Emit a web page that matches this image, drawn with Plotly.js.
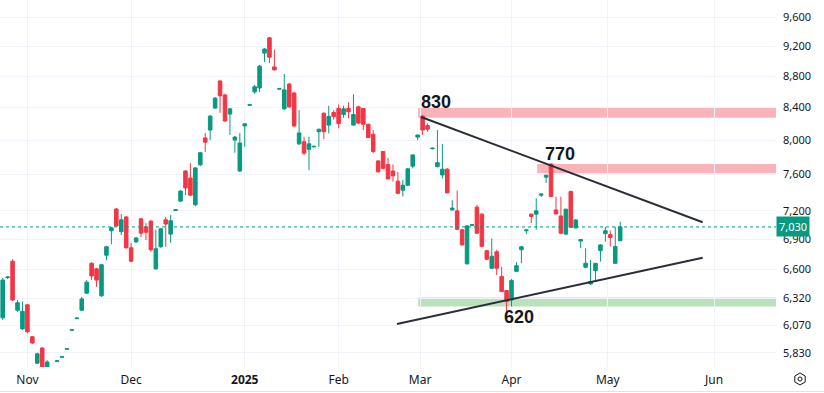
<!DOCTYPE html>
<html>
<head>
<meta charset="utf-8">
<script src="https://cdn.plot.ly/plotly-3.0.1.min.js"></script>
<style>
  html, body { margin: 0; padding: 0; background: #ffffff; }
  #chart { width: 824px; height: 393px; }
</style>
</head>
<body>
<div id="chart"></div>
<script>
// ---- Data (daily candles) ----
const openP = [6140,6520,6680,6210,6040,6260,5970,5740,5870,5700,5690,5755,5790,5860,6028,6133,6210,6370,6660,6605,
  6345,6740,6990,7220,6980,7135,6815,6875,7115,7030,7090,6605,6825,7105,6955,7205,7305,7640,7560,7265,
  7710,8025,8120,8390,8735,8555,8315,8000,7640,8170,8425,8595,8645,9105,9315,8920,8630,8380,8695,8580,
  7955,7980,7890,7920,8100,8325,8180,8335,8385,8310,8385,8180,8405,8385,8190,8070,7755,7865,7715,7640,
  7525,7425,7480,7695,8035,8290,8175,7898,7690,7595,7660,7210,7200,7000,6655,7048,7240,7165,6785,6610,
  6775,6530,6395,6305,6580,6795,6990,7165,7165,7370,7570,7720,7210,7145,6955,7410,7020,6884,6620,6458,
  6587,6786,6960,6950,6659,6887];
const highP = [6515,6535,6700,6305,6290,6270,5975,5830,5880,5765,5700,5767,5800,5870,6040,6145,6335,6495,6670,6615,
  6655,6835,7030,7230,7165,7145,6865,6925,7125,7070,7105,7000,7020,7135,7155,7220,7425,7650,7730,7685,
  7860,8085,8305,8530,8750,8570,8390,8050,8085,8205,8440,8685,8945,9175,9325,9150,8645,8825,8710,8595,
  8365,8040,8040,7935,8135,8340,8420,8365,8435,8420,8460,8565,8420,8390,8195,8120,7765,7870,7790,7715,
  7630,7540,7675,7830,8065,8305,8200,7910,8120,7955,7675,7315,7420,7010,7050,7060,7265,7175,6795,6910,
  6795,6625,6400,6505,6670,6835,7003,7170,7335,7385,7595,7730,7355,7355,7222,7420,7114,6903,6810,6692,
  6662,6850,7030,6991,7032,7085];
const lowP = [6120,6505,6295,6195,6030,6000,5905,5735,5680,5690,5670,5750,5785,5855,6020,6128,6205,6360,6495,6430,
  6335,6690,6850,7030,6945,6805,6670,6865,6925,6895,6775,6595,6815,6825,6865,7200,7295,7370,7360,7250,
  7695,7860,8000,8380,8330,8220,8060,7850,7630,7920,8420,8570,8595,8985,8970,8875,8625,8365,8390,8155,
  7940,7825,7650,7910,7920,8010,8080,8245,8140,8270,8265,8175,8190,8120,8025,7845,7625,7660,7545,7520,
  7380,7355,7470,7670,8000,8060,8100,7890,7680,7555,7390,7205,6995,6835,6645,7040,6955,6820,6690,6605,
  6545,6380,6150,6245,6575,6660,6955,7070,7000,7350,7505,7350,7162,6955,6950,7018,7015,6810,6610,6448,
  6496,6676,6877,6827,6657,6884];
const closeP = [6495,6525,6305,6280,6200,6015,5915,5820,5700,5750,5680,5760,5795,5865,6032,6138,6315,6475,6535,6495,
  6645,6825,7020,7040,7105,6815,6680,6915,6965,6975,6795,6805,7010,7060,7095,7212,7415,7450,7370,7675,
  7850,7975,8290,8515,8545,8230,8380,8035,7965,8195,8432,8660,8930,9160,9050,8880,8635,8620,8405,8170,
  8085,7845,7955,7925,8130,8100,8285,8285,8200,8380,8345,8310,8205,8190,8030,7865,7630,7670,7550,7585,
  7390,7480,7665,7825,8060,8120,8130,7904,7735,7660,7395,7230,7005,6845,7040,7052,6965,6830,6700,6730,
  6610,6385,6290,6490,6635,6825,6998,7140,7200,7383,7593,7355,7167,6965,7218,7026,7103,6900,6660,6480,
  6659,6844,6990,6920,6827,7030];

// time axis (bar index of each month's first session)
const monthLabels = ['Nov','Dec','<b>2025</b>','Feb','Mar','Apr','May','Jun'];
const monthStartBar = [5, 26, 49, 68, 84.5, 103, 122.5, 144];

// price axis ticks
const priceTicks = [5830,6070,6320,6600,6900,7200,7600,8000,8400,8800,9200,9600];
const priceTickText = ['5,830','6,070','6,320','6,600','6,900','7,200','7,600','8,000','8,400','8,800','9,200','9,600'];

// drawings
const upperTrendX = [84.7, 141.7];
const upperTrendY = [8279, 7079];
const lowerTrendX = [79.8, 141.7];
const lowerTrendY = [6084, 6715];
const resist1 = {x0: 84.1, y0: 8271, y1: 8391};
const resist2 = {x0: 108.2, y0: 7615, y1: 7720};
const support1 = {x0: 84.1, y0: 6245, y1: 6330};
const levelLabels = ['830', '770', '620'];
const levelLabelX = [87.7, 112.8, 104.5];
const levelLabelY = [8466, 7830, 6148];
const lastPrice = 7030;
const lastPriceText = '7,030';

const xIdx = closeP.map((_, i) => i);
const X_END = 156.54;

const UP = '#089981', DOWN = '#f23645';
const FONT = 'Noto Sans, Open Sans, sans-serif';

const traces = [
  {
    type: 'candlestick',
    x: xIdx, open: openP, high: highP, low: lowP, close: closeP,
    increasing: {line: {color: UP, width: 1}, fillcolor: UP},
    decreasing: {line: {color: DOWN, width: 1}, fillcolor: DOWN},
    whiskerwidth: 0,
    hoverinfo: 'skip'
  },
  {
    type: 'scatter', mode: 'lines', x: upperTrendX, y: upperTrendY,
    line: {color: '#2a2e39', width: 2}, hoverinfo: 'skip'
  },
  {
    type: 'scatter', mode: 'lines', x: lowerTrendX, y: lowerTrendY,
    line: {color: '#2a2e39', width: 2}, hoverinfo: 'skip'
  }
];

const shapes = [
  {type: 'rect', xref: 'x', yref: 'y', x0: resist1.x0, x1: X_END, y0: resist1.y0, y1: resist1.y1,
   fillcolor: 'rgba(242,54,69,0.38)', line: {width: 0}, layer: 'below'},
  {type: 'rect', xref: 'x', yref: 'y', x0: resist2.x0, x1: X_END, y0: resist2.y0, y1: resist2.y1,
   fillcolor: 'rgba(242,54,69,0.38)', line: {width: 0}, layer: 'below'},
  {type: 'rect', xref: 'x', yref: 'y', x0: support1.x0, x1: X_END, y0: support1.y0, y1: support1.y1,
   fillcolor: 'rgba(76,175,80,0.38)', line: {width: 0}, layer: 'below'},
  {type: 'line', xref: 'paper', yref: 'y', x0: 0, x1: 1, y0: lastPrice, y1: lastPrice,
   line: {color: UP, width: 1, dash: 'dot'}},
  {type: 'line', xref: 'paper', yref: 'paper', x0: 0, x1: 824/776, y0: -24.5/367, y1: -24.5/367,
   line: {color: '#e0e3eb', width: 1}},
  {type: 'path', xref: 'paper', yref: 'paper', xsizemode: 'pixel', ysizemode: 'pixel',
   xanchor: 800/776, yanchor: -12/367,
   path: 'M 0 6 L 5.2 3 L 5.2 -3 L 0 -6 L -5.2 -3 L -5.2 3 Z',
   line: {color: '#131722', width: 1}},
  {type: 'circle', xref: 'paper', yref: 'paper', xsizemode: 'pixel', ysizemode: 'pixel',
   xanchor: 800/776, yanchor: -12/367, x0: -2, x1: 2, y0: -2, y1: 2,
   line: {color: '#131722', width: 1}}
];

const annotations = levelLabels.map((t, i) => ({
  xref: 'x', yref: 'y', x: levelLabelX[i], y: Math.log10(levelLabelY[i]),
  text: '<b>' + t + '</b>', showarrow: false, xanchor: 'center', yanchor: 'middle',
  font: {family: 'Liberation Sans, Arial, sans-serif', size: 18, color: '#131722'}
}));
annotations.push({
  xref: 'paper', yref: 'y', x: 1, y: Math.log10(lastPrice), xanchor: 'left', yanchor: 'middle',
  text: lastPriceText, showarrow: false, bgcolor: UP, borderpad: 2,
  font: {family: FONT, size: 11, color: '#ffffff'}
});

const layout = {
  width: 824, height: 393,
  margin: {l: 0, r: 48, t: 0, b: 26, pad: 0},
  paper_bgcolor: '#ffffff', plot_bgcolor: '#ffffff',
  showlegend: false,
  boxgap: 0.2, boxgroupgap: 0.1,
  xaxis: {
    type: 'linear', range: [-0.547, X_END],
    tickvals: monthStartBar, ticktext: monthLabels,
    showgrid: true, gridcolor: '#f0f3fa', gridwidth: 1,
    zeroline: false, showline: false, ticks: '',
    ticklabelstandoff: 4,
    tickfont: {family: FONT, size: 12, color: '#131722'},
    rangeslider: {visible: false}, fixedrange: true
  },
  yaxis: {
    type: 'log', side: 'right',
    range: [Math.log10(5707), Math.log10(9854)],
    tickvals: priceTicks, ticktext: priceTickText,
    showgrid: true, gridcolor: '#f0f3fa', gridwidth: 1,
    zeroline: false, showline: false, ticks: '',
    ticklabelstandoff: 6,
    tickfont: {family: FONT, size: 11, color: '#131722'},
    fixedrange: true
  },
  shapes: shapes,
  annotations: annotations
};

Plotly.newPlot('chart', traces, layout, {displayModeBar: false, staticPlot: true});
</script>
</body>
</html>
